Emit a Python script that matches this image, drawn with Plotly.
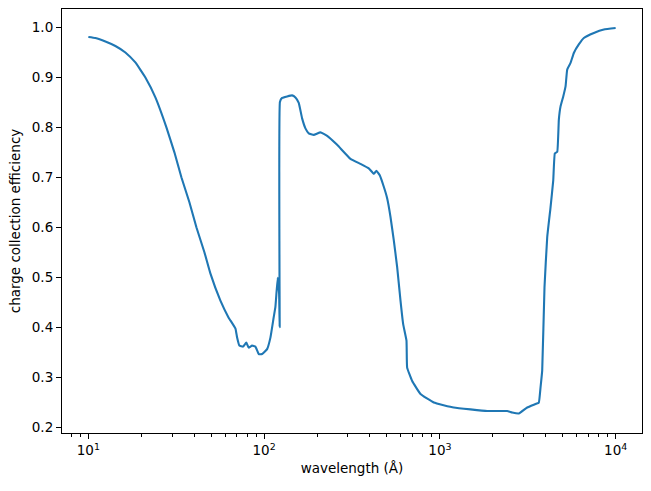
import plotly.graph_objects as go

wavelength = [10, 10.96, 12.5, 14.25, 16.24, 18.51, 21.11, 24.06, 27.8, 30.87, 33.83, 37.57, 41.18,
              45.73, 49.5, 56.4, 62.6,
              68.7, 70.2, 72.3, 75.9, 79.2, 81.7, 85.4, 89.2, 93.2, 97.4, 104.0, 108.6, 113.4,
              115.9, 119.5, 121.7, 122.6, 123.0, 126.6, 135.2, 144.3, 150.7, 157.4, 164.5, 171.8,
              179.4, 191.6, 209.1, 228.4, 260.3, 309.9, 353.3, 393.9, 420.6, 435.7, 454.9, 479.6,
              501.2, 523.4, 546.6, 571.4, 597, 618.2, 645.7, 651.2, 695.7, 775.5, 923.3, 1200,
              1858, 2415, 2579, 2812, 3140, 3501, 3656, 3738, 3821, 3938, 4080, 4262, 4416, 4509,
              4653, 4751, 4859, 5034, 5188, 5303, 5538, 5782, 6172, 6591, 7516, 8570, 10000]
efficiency = [0.981, 0.979, 0.972, 0.963, 0.950, 0.930, 0.900, 0.860, 0.800, 0.750, 0.700, 0.650, 0.600,
              0.550, 0.507, 0.453, 0.420,
              0.397, 0.379, 0.363, 0.361, 0.369, 0.359, 0.363, 0.361, 0.346, 0.346, 0.356, 0.379, 0.42,
              0.44, 0.499, 0.467, 0.40, 0.851, 0.859, 0.862, 0.864, 0.860, 0.849, 0.818, 0.798,
              0.788, 0.785, 0.790, 0.783, 0.765, 0.737, 0.727, 0.718, 0.707, 0.713, 0.704, 0.681,
              0.658, 0.621, 0.574, 0.520, 0.453, 0.406, 0.373, 0.319, 0.292, 0.266, 0.249, 0.239,
              0.232, 0.232, 0.229, 0.227, 0.239, 0.246, 0.249, 0.279, 0.313, 0.480, 0.580, 0.640, 0.694, 0.748,
              0.751, 0.815, 0.842, 0.862, 0.882, 0.916, 0.929, 0.949, 0.966, 0.979, 0.989, 0.996, 0.999]

x_major = [10, 100, 1000, 10000]
x_major_text = ["10<sup>1</sup>", "10<sup>2</sup>", "10<sup>3</sup>", "10<sup>4</sup>"]
y_ticks = [0.2, 0.3, 0.4, 0.5, 0.6, 0.7, 0.8, 0.9, 1.0]

minor_vals = [m * 10 ** d for d in range(0, 5) for m in range(2, 10)]

fig = go.Figure()
fig.add_trace(go.Scatter(x=wavelength, y=efficiency, mode="lines",
                         line=dict(color="#1f77b4", width=2.1, shape="spline", smoothing=0.3),
                         showlegend=False))

font = dict(family="DejaVu Sans", size=13.5, color="black")
fig.update_layout(
    width=651, height=491,
    margin=dict(l=62, r=9, t=9, b=58),
    paper_bgcolor="white", plot_bgcolor="white",
    font=font,
    xaxis=dict(type="log", range=[0.85, 4.15], tickmode="array", tickvals=x_major,
               ticktext=x_major_text, ticks="outside", ticklen=5, tickwidth=1.1, tickcolor="black",
               showline=True, linecolor="black", linewidth=1.1, mirror=True, showgrid=False,
               zeroline=False,
               minor=dict(tickmode="array", tickvals=minor_vals, ticks="outside", ticklen=3,
                          tickwidth=0.8, tickcolor="black", showgrid=False),
               title=dict(text="wavelength (Å)", standoff=6, font=font)),
    yaxis=dict(range=[0.188, 1.037], tickmode="array", tickvals=y_ticks, tickformat=".1f",
               ticks="outside", ticklen=5, tickwidth=1.1, tickcolor="black",
               showline=True, linecolor="black", linewidth=1.1, mirror=True, showgrid=False,
               zeroline=False,
               title=dict(text="charge collection efficiency", standoff=8, font=font)),
)
fig.write_html("out.html")
